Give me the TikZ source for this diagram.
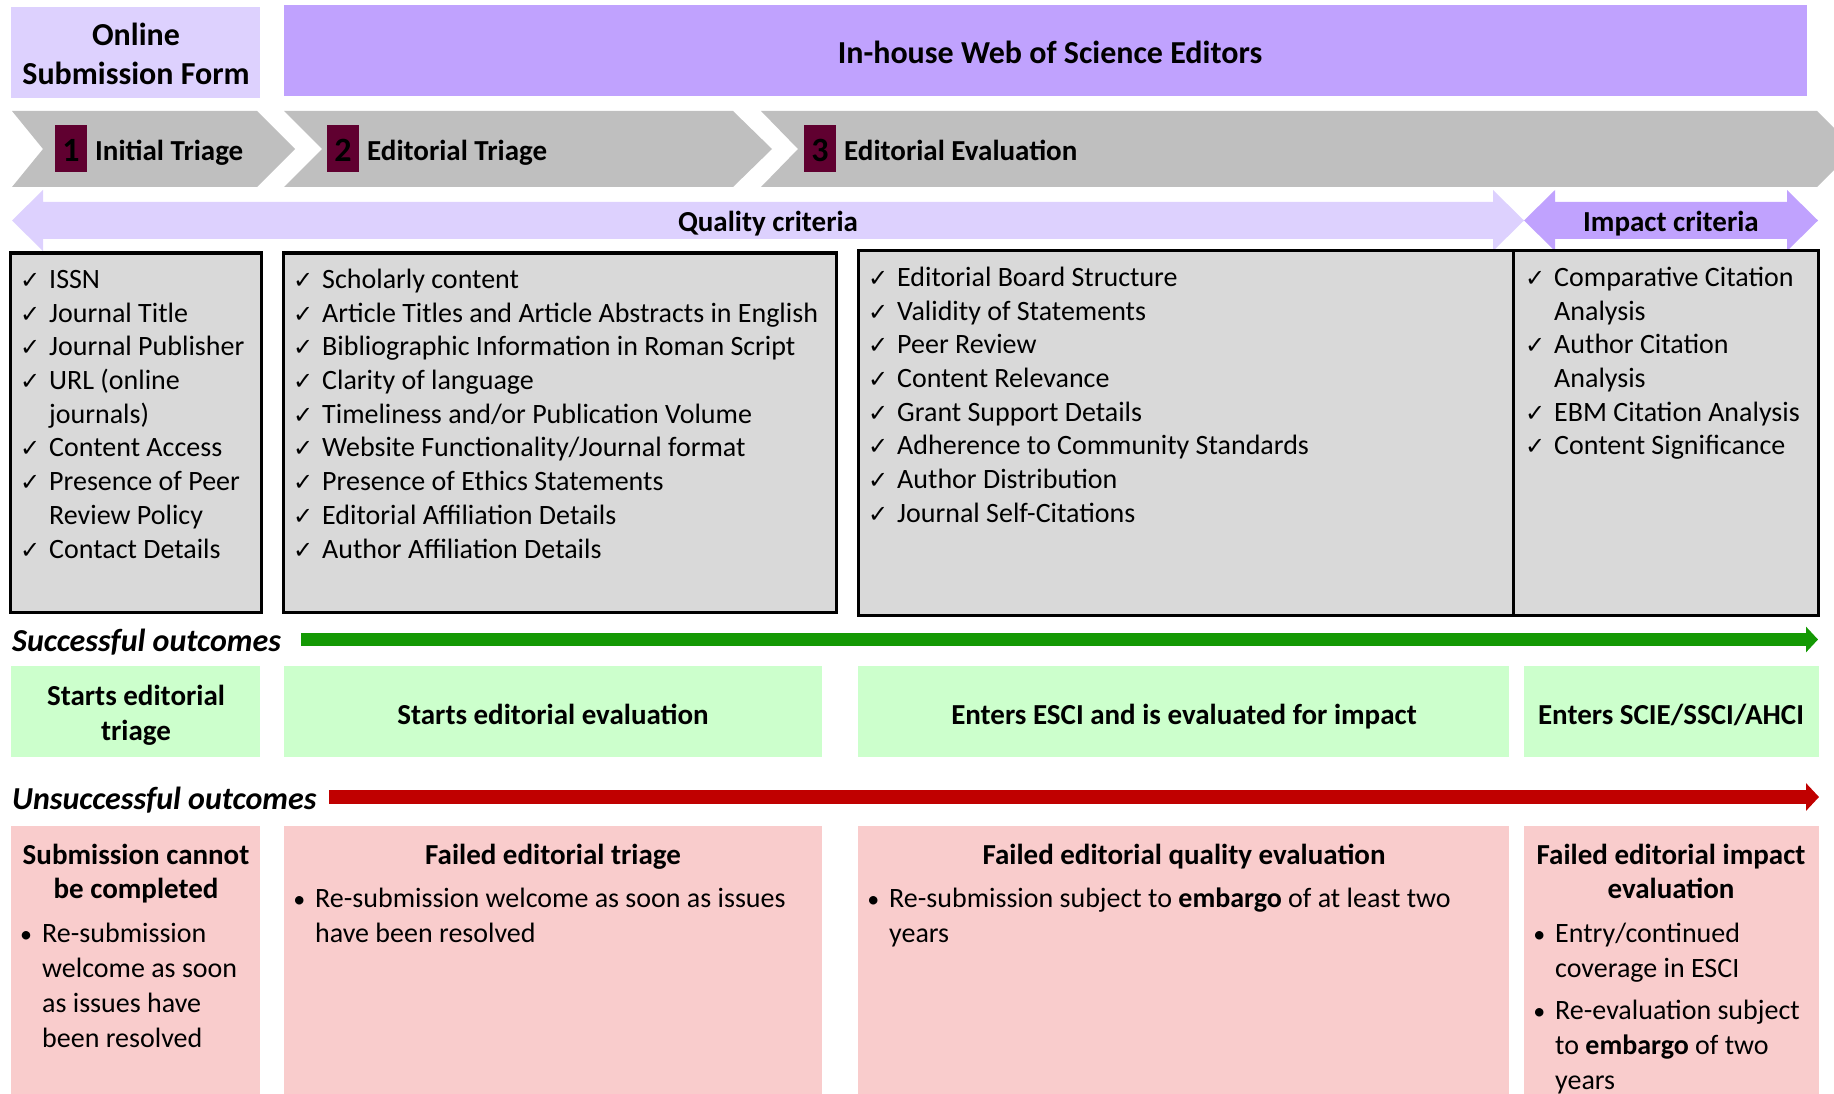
\documentclass[tikz,border=0pt]{standalone}
\usepackage{fontspec}
\setmainfont{Carlito}
\newfontfamily\ckfont{DejaVu Sans}
\usetikzlibrary{arrows.meta}
\definecolor{lav}{HTML}{DDD1FE}
\definecolor{purp}{HTML}{C0A2FE}
\definecolor{chev}{HTML}{BFBFBF}
\definecolor{numbg}{HTML}{600030}
\definecolor{critbg}{HTML}{D9D9D9}
\definecolor{okbg}{HTML}{CCFFCC}
\definecolor{okline}{HTML}{149904}
\definecolor{badbg}{HTML}{F9CCCC}
\definecolor{badline}{HTML}{C00000}
\newcommand\hdfont{\fontsize{32}{39}\selectfont\bfseries}
\newcommand\bdfont{\fontsize{29}{34}\selectfont\bfseries}
\newcommand\gnfont{\fontsize{29}{35}\selectfont\bfseries}
\newcommand\lsfont{\fontsize{28}{33.7}\selectfont}
\newcommand\rdfont{\fontsize{28}{35}\selectfont}
\newcommand\ckm{\makebox[29pt][l]{\fontsize{24}{24}\ckfont ✓}}
\newcommand\itm[1]{\hbox{\ckm#1}}
\newcommand\cnt[1]{\hbox{\hspace*{29pt}#1}}
\newcommand\ctr[1]{\hbox to 0pt{\hss#1\hss}}
\newcommand\bul[1]{\hbox{\llap{{\fontsize{24}{24}\selectfont•}\hspace{10pt}}#1}}
\newcommand\lin[1]{\hbox{#1}}
\begin{document}
\begin{tikzpicture}[x=1pt,y=-1pt,
  box/.style={inner sep=0pt, outer sep=0pt, anchor=north west},
  critbox/.style={box, draw=black, line width=3pt, fill=critbg},
  okbox/.style={box, fill=okbg},
  badbox/.style={box, fill=badbg},
  numbox/.style={fill=numbg, inner sep=0pt, minimum width=32pt, minimum height=47pt, text height=27pt, text depth=0pt, font=\fontsize{34}{34}\selectfont\bfseries},
  ttl/.style={anchor=base, inner sep=0pt, yshift=-2.5pt},
  stage/.style={anchor=base west, inner sep=0pt, font=\bdfont, yshift=-1.5pt},
  lst/.style={anchor=base west, inner sep=0pt, font=\lsfont, yshift=-1.5pt},
  bl/.style={anchor=base west, inner sep=0pt, font=\rdfont, yshift=-2pt},
  outlbl/.style={anchor=base west, inner sep=0pt, font=\fontsize{32}{36}\selectfont\bfseries\itshape, yshift=-1pt}
]
\useasboundingbox (0,0) rectangle (1834,1094);

% top boxes
\node[box, fill=lav, minimum width=249pt, minimum height=91pt] (online) at (11,7) {};
\node[box, fill=purp, minimum width=1523pt, minimum height=91pt] (editors) at (284,5) {};
\node[ttl, font=\hdfont] (onlinet) at (136,43) {\vtop{\ctr{Online}\ctr{Submission Form}}};
\node[ttl, font=\hdfont] (editorst) at (1050,61) {In-house Web of Science Editors};

% chevrons
\fill[chev] (12,111) -- (257,111) -- (295,149) -- (257,187) -- (12,187) -- (43,149) -- cycle;
\fill[chev] (284,111) -- (733,111) -- (772,149) -- (733,187) -- (284,187) -- (322,149) -- cycle;
\fill[chev] (761,111) -- (1817,111) -- (1855,149) -- (1817,187) -- (761,187) -- (798,149) -- cycle;
\node[numbox] (n1) at (71,148.5) {1};
\node[numbox] (n2) at (343,148.5) {2};
\node[numbox] (n3) at (820,148.5) {3};
\node[stage] (s1) at (95,159) {Initial Triage};
\node[stage] (s2) at (367,159) {Editorial Triage};
\node[stage] (s3) at (844,159) {Editorial Evaluation};

% criteria arrows
\fill[lav] (12,220.5) -- (43,190) -- (43,202) -- (1493,202) -- (1493,190) -- (1524,220.5)
  -- (1493,251) -- (1493,239) -- (43,239) -- (43,251) -- cycle;
\fill[purp] (1524,220.5) -- (1555,190) -- (1555,202) -- (1787,202) -- (1787,190) -- (1818,220.5)
  -- (1787,251) -- (1787,239) -- (1555,239) -- (1555,251) -- cycle;
\node[ttl, font=\bdfont] (qual) at (768,229) {Quality criteria};
\node[ttl, font=\bdfont] (imp) at (1671,229) {Impact criteria};

% criteria boxes
\node[critbox, minimum width=251pt, minimum height=359pt] (c1) at (10,253) {};
\node[critbox, minimum width=553pt, minimum height=359pt] (c2) at (283,253) {};
\node[critbox, minimum width=655pt, minimum height=364pt] (c3) at (858,251) {};
\node[critbox, minimum width=305pt, minimum height=364pt] (c4) at (1513,251) {};

\node[lst] (l1) at (20,287) {\vtop{\itm{ISSN}\itm{Journal Title}\itm{Journal Publisher}\itm{URL (online}\cnt{journals)}\itm{Content Access}\itm{Presence of Peer}\cnt{Review Policy}\itm{Contact Details}}};
\node[lst] (l2) at (293,287) {\vtop{\itm{Scholarly content}\itm{Article Titles and Article Abstracts in English}\itm{Bibliographic Information in Roman Script}\itm{Clarity of language}\itm{Timeliness and/or Publication Volume}\itm{Website Functionality/Journal format}\itm{Presence of Ethics Statements}\itm{Editorial Affiliation Details}\itm{Author Affiliation Details}}};
\node[lst] (l3) at (868,285) {\vtop{\itm{Editorial Board Structure}\itm{Validity of Statements}\itm{Peer Review}\itm{Content Relevance}\itm{Grant Support Details}\itm{Adherence to Community Standards}\itm{Author Distribution}\itm{Journal Self-Citations}}};
\node[lst] (l4) at (1525,285) {\vtop{\itm{Comparative Citation}\cnt{Analysis}\itm{Author Citation}\cnt{Analysis}\itm{EBM Citation Analysis}\itm{Content Significance}}};

% successful outcomes
\node[outlbl] (succ) at (12,650) {Successful outcomes};
\coordinate (gs) at (301,639.5);
\coordinate (ge) at (1818,639.5);
\draw[okline, line width=13pt, -{Triangle[length=12pt,width=25pt]}] (gs) -- (ge);

\node[okbox, minimum width=249pt, minimum height=91pt] (g1) at (11,666) {};
\node[okbox, minimum width=538pt, minimum height=91pt] (g2) at (284,666) {};
\node[okbox, minimum width=651pt, minimum height=91pt] (g3) at (858,666) {};
\node[okbox, minimum width=295pt, minimum height=91pt] (g4) at (1524,666) {};
\node[ttl, font=\gnfont] (g1t) at (136,703) {\vtop{\ctr{Starts editorial}\ctr{triage}}};
\node[ttl, font=\gnfont] (g2t) at (553,722) {Starts editorial evaluation};
\node[ttl, font=\gnfont] (g3t) at (1184,722) {Enters ESCI and is evaluated for impact};
\node[ttl, font=\gnfont] (g4t) at (1671,722) {Enters SCIE/SSCI/AHCI};

% unsuccessful outcomes
\node[outlbl] (unsucc) at (12,808) {Unsuccessful outcomes};
\coordinate (rs) at (329,797);
\coordinate (re) at (1819,797);
\draw[badline, line width=14pt, -{Triangle[length=13pt,width=27pt]}] (rs) -- (re);

\node[badbox, minimum width=249pt, minimum height=272pt] (r1) at (11,826) {};
\node[badbox, minimum width=538pt, minimum height=272pt] (r2) at (284,826) {};
\node[badbox, minimum width=651pt, minimum height=272pt] (r3) at (858,826) {};
\node[badbox, minimum width=295pt, minimum height=272pt] (r4) at (1524,826) {};

\node[ttl, font=\bdfont] (r1t) at (136,862) {\vtop{\ctr{Submission cannot}\ctr{be completed}}};
\node[bl] (r1b) at (42,940) {\vtop{\bul{Re-submission}\lin{welcome as soon}\lin{as issues have}\lin{been resolved}}};
\node[ttl, font=\bdfont] (r2t) at (553,862) {Failed editorial triage};
\node[bl] (r2b) at (315,905) {\vtop{\bul{Re-submission welcome as soon as issues}\lin{have been resolved}}};
\node[ttl, font=\bdfont] (r3t) at (1184,862) {Failed editorial quality evaluation};
\node[bl] (r3b) at (889,905) {\vtop{\bul{Re-submission subject to \textbf{embargo} of at least two}\lin{years}}};
\node[ttl, font=\bdfont] (r4t) at (1671,862) {\vtop{\ctr{Failed editorial impact}\ctr{evaluation}}};
\node[bl] (r4b) at (1555,940) {\vtop{\bul{Entry/continued}\lin{coverage in ESCI}}};
\node[bl] (r4c) at (1555,1017) {\vtop{\bul{Re-evaluation subject}\lin{to \textbf{embargo} of two}\lin{years}}};
\end{tikzpicture}
\end{document}
